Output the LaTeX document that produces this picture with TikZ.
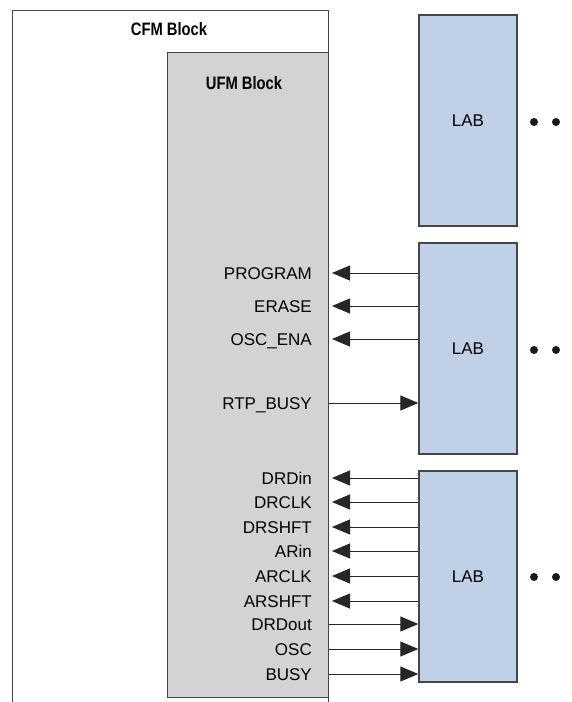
\documentclass[tikz,border=0pt]{standalone}
\usepackage{fontspec}
\setmainfont{Liberation Sans}
\newfontfamily\condfont[FakeStretch=0.82]{Liberation Sans}
\usetikzlibrary{arrows.meta}
\definecolor{labblue}{RGB}{192,208,230}
\definecolor{ufmgray}{RGB}{211,211,213}
\definecolor{edgegray}{RGB}{70,70,72}
\tikzset{
  labbox/.style={draw=edgegray, line width=1.4pt, fill=labblue, minimum width=98pt, minimum height=211pt, inner sep=0pt, font=\fontsize{17}{19}\selectfont},
  sig/.style={inner sep=0pt, anchor=base east, font=\fontsize{17}{19}\selectfont},
  title/.style={inner sep=0pt, font=\condfont\bfseries\fontsize{18}{20}\selectfont},
  wire/.style={line width=1pt, black!85},
  arr/.style={wire, -{Triangle[length=18pt,width=15pt]}},
  dotc/.style={circle, fill=black!90, minimum size=8pt, inner sep=0pt}
}
\begin{document}
\begin{tikzpicture}[x=1pt,y=-1pt]
\useasboundingbox (0,0) rectangle (572,702);
% CFM block (open at bottom)
\draw[edgegray, line width=1pt] (12,702) -- (12,10) -- (328,10) -- (328,702);
\node[title] (cfmt) at (169,29) {CFM Block};
% UFM block
\node[draw=edgegray, line width=1pt, fill=ufmgray, minimum width=161pt, minimum height=645pt, inner sep=0pt] (ufm) at (247.5,374.5) {};
\node[title] (ufmt) at (244,83) {UFM Block};
% LABs
\node[labbox] (lab1) at (468,120.5) {LAB};
\node[labbox] (lab2) at (468,348.5) {LAB};
\node[labbox] (lab3) at (468,576.5) {LAB};
% dots
\foreach \i/\y in {1/122,2/350,3/577}{
  \node[dotc] (da\i) at (534,\y) {};
  \node[dotc] (db\i) at (556,\y) {};
}
% signals: inputs to UFM
\foreach \n/\t/\y in {prog/PROGRAM/273, erase/ERASE/306, oscena/OSC\_ENA/339}{
  \node[sig] (t\n) at (312,\y+6.1) {\t};
  \coordinate (u\n) at (332,\y);
  \draw[arr] (lab2.west |- u\n) -- (u\n);
}
\node[sig] (trtp) at (312,403+6.1) {RTP\_BUSY};
\coordinate (urtp) at (329,403);
\draw[arr] (urtp) -- (lab2.west |- urtp);
\foreach \n/\t/\y in {drdin/DRDin/478, drclk/DRCLK/502, drshft/DRSHFT/527, arin/ARin/551, arclk/ARCLK/576, arshft/ARSHFT/601}{
  \node[sig] (t\n) at (312,\y+6.1) {\t};
  \coordinate (u\n) at (332,\y);
  \draw[arr] (lab3.west |- u\n) -- (u\n);
}
\foreach \n/\t/\y in {drdout/DRDout/624, osc/OSC/649, busy/BUSY/674}{
  \node[sig] (t\n) at (312,\y+6.1) {\t};
  \coordinate (u\n) at (329,\y);
  \draw[arr] (u\n) -- (lab3.west |- u\n);
}
\end{tikzpicture}
\end{document}
